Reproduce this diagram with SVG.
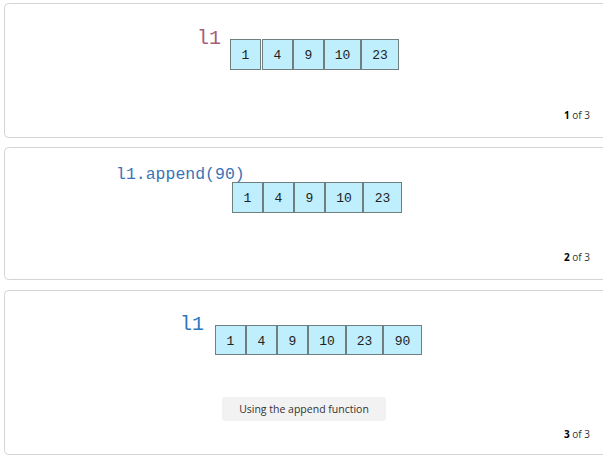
<svg xmlns="http://www.w3.org/2000/svg" width="603" height="459" viewBox="0 0 603 459">
<style>
.panel{fill:#fff;stroke:#d4d4d4;stroke-width:1}
.cell{fill:#bfeefc;stroke:#6f7f80;stroke-width:1}
.ct{font-family:"Liberation Mono",monospace;font-size:13px;fill:#222;text-anchor:middle}
.var{font-family:"Liberation Mono",monospace;font-size:20px}
.pg{font-family:"Open Sans","Liberation Sans",sans-serif;font-size:10px;fill:#333;text-anchor:end}
.cap{font-family:"Open Sans","Liberation Sans",sans-serif;font-size:10.5px;fill:#333;text-anchor:middle}
</style>
<rect width="603" height="459" fill="#fff"/>
<g id="panel1">
<rect class="panel" x="4.5" y="3.5" width="603" height="134" rx="4"/>
<text class="var" x="197" y="44" fill="#a65e7c">l1</text>
<g id="list1">
<rect class="cell" x="230.5" y="39.5" width="30" height="30"/><text class="ct" x="245.5" y="59">1</text>
<rect class="cell" x="262.5" y="39.5" width="30" height="30"/><text class="ct" x="277.5" y="59">4</text>
<rect class="cell" x="293.5" y="39.5" width="30" height="30"/><text class="ct" x="308.5" y="59">9</text>
<rect class="cell" x="324.5" y="39.5" width="36" height="30"/><text class="ct" x="342.5" y="59">10</text>
<rect class="cell" x="361.5" y="39.5" width="37" height="30"/><text class="ct" x="380" y="59">23</text>
</g>
<text class="pg" x="590" y="119"><tspan font-weight="bold" fill="#000">1</tspan> of 3</text>
</g>
<g id="panel2">
<rect class="panel" x="4.5" y="147.5" width="603" height="132" rx="4"/>
<text x="116" y="179" font-family="Liberation Mono,monospace" font-size="16.5" fill="#3a74b6">l1.append(90)</text>
<g id="list2">
<rect class="cell" x="232.5" y="182.5" width="30" height="30"/><text class="ct" x="247.5" y="202">1</text>
<rect class="cell" x="263.5" y="182.5" width="30" height="30"/><text class="ct" x="278.5" y="202">4</text>
<rect class="cell" x="294.5" y="182.5" width="30" height="30"/><text class="ct" x="309.5" y="202">9</text>
<rect class="cell" x="325.5" y="182.5" width="37" height="30"/><text class="ct" x="344" y="202">10</text>
<rect class="cell" x="363.5" y="182.5" width="38" height="30"/><text class="ct" x="382.5" y="202">23</text>
</g>
<text class="pg" x="590" y="261"><tspan font-weight="bold" fill="#000">2</tspan> of 3</text>
</g>
<g id="panel3">
<rect class="panel" x="4.5" y="290.5" width="603" height="164" rx="4"/>
<text class="var" x="180" y="330" fill="#2c78c0">l1</text>
<g id="list3">
<rect class="cell" x="215.5" y="325.5" width="30" height="29"/><text class="ct" x="230.5" y="344.5">1</text>
<rect class="cell" x="246.5" y="325.5" width="30" height="29"/><text class="ct" x="261.5" y="344.5">4</text>
<rect class="cell" x="277.5" y="325.5" width="30" height="29"/><text class="ct" x="292.5" y="344.5">9</text>
<rect class="cell" x="308.5" y="325.5" width="37" height="29"/><text class="ct" x="327" y="344.5">10</text>
<rect class="cell" x="346.5" y="325.5" width="36" height="29"/><text class="ct" x="364.5" y="344.5">23</text>
<rect class="cell" x="383.5" y="325.5" width="38" height="29"/><text class="ct" x="402.5" y="344.5">90</text>
</g>
<g id="caption">
<rect x="222" y="397" width="164" height="24" rx="3" fill="#f2f2f2"/>
<text class="cap" x="304" y="412.5">Using the append function</text>
</g>
<text class="pg" x="590" y="438"><tspan font-weight="bold" fill="#000">3</tspan> of 3</text>
</g>
</svg>
